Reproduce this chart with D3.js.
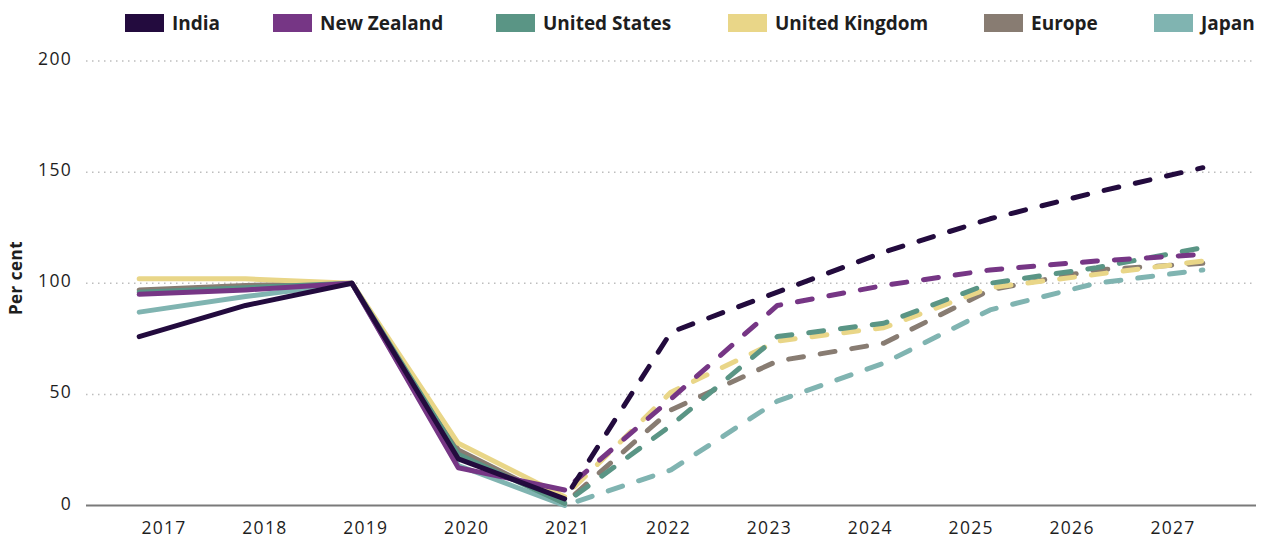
<!DOCTYPE html>
<html>
<head>
<meta charset="utf-8">
<script src="https://cdn.jsdelivr.net/npm/d3@7"></script>
<style>
  body { margin: 0; background: #fff; }
  svg text { font-family: "Open Sans", "Noto Sans", sans-serif; fill: #1e1e1e; }
</style>
</head>
<body>
<div id="chart"></div>
<script>
// data (per cent, 2019 = 100), 2021 onwards is a forecast
var years = ["2017", "2018", "2019", "2020", "2021", "2022", "2023", "2024", "2025", "2026", "2027"];
var yTicks = [0, 50, 100, 150, 200];

var india         = [76, 90, 100, 21, 3, 78, 96, 114, 129, 141, 152];
var newZealand    = [95, 97, 100, 17, 7, 48, 90, 99, 106, 110, 113];
var unitedStates  = [96, 98, 100, 23, 1, 36, 76, 82, 100, 107, 116];
var unitedKingdom = [102, 102, 100, 28, 4, 51, 74, 80, 98, 104, 110];
var europe        = [97, 99, 100, 25, 1, 43, 65, 73, 97, 106, 109];
var japan         = [87, 94, 100, 18, 0, 16, 47, 64, 88, 100, 106];

var seriesNames = ["India", "New Zealand", "United States", "United Kingdom", "Europe", "Japan"];
var seriesValues = [india, newZealand, unitedStates, unitedKingdom, europe, japan];
var seriesColors = ["#230b3e", "#763685", "#5a9585", "#e9d688", "#887c72", "#80b4b1"];
var forecastFrom = "2021";

var width = 1261, height = 540;
var margin = { left: 86, right: 1256, top: 61, bottom: 505.5 };

var svg = d3.select("#chart").append("svg")
    .attr("width", width)
    .attr("height", height);

var x = d3.scalePoint().domain(years).range([margin.left, margin.right]).padding(0.5);
// tick labels sit on their own, slightly narrower spacing in the original
var xLabel = d3.scalePoint().domain(years).range([164, 1173]);
var y = d3.scaleLinear().domain([0, 200]).range([margin.bottom, margin.top]);

// grid
svg.append("g")
    .selectAll("line")
    .data(yTicks.filter(function (d) { return d > 0; }))
    .enter()
    .append("line")
    .attr("x1", margin.left)
    .attr("x2", margin.right)
    .attr("y1", function (d) { return y(d); })
    .attr("y2", function (d) { return y(d); })
    .style("stroke", "#bdbdbd")
    .style("stroke-width", 1.5)
    .style("stroke-dasharray", "1.5 4.5");

svg.append("line")
    .attr("x1", margin.left)
    .attr("x2", margin.right)
    .attr("y1", y(0))
    .attr("y2", y(0))
    .style("stroke", "#7a7a7a")
    .style("stroke-width", 2);

// y tick labels
svg.append("g")
    .selectAll("text")
    .data(yTicks)
    .enter()
    .append("text")
    .attr("x", 72)
    .attr("y", function (d) { return y(d) - 3; })
    .attr("text-anchor", "end")
    .attr("dominant-baseline", "central")
    .style("font-size", "17.5px")
    .style("letter-spacing", "1.3px")
    .text(function (d) { return d; });

// x tick labels
svg.append("g")
    .selectAll("text")
    .data(years)
    .enter()
    .append("text")
    .attr("x", function (d) { return xLabel(d); })
    .attr("y", 534)
    .attr("text-anchor", "middle")
    .style("font-size", "17.5px")
    .style("letter-spacing", "1.3px")
    .text(function (d) { return d; });

svg.append("text")
    .attr("transform", "translate(22,278) rotate(-90)")
    .attr("text-anchor", "middle")
    .style("font-size", "17px")
    .style("font-weight", "bold")
    .style("letter-spacing", "0.5px")
    .text("Per cent");

// lines
var line = d3.line()
    .x(function (d) { return x(d.year); })
    .y(function (d) { return y(d.value); });

var series = seriesNames.map(function (name, i) {
    return {
        name: name,
        color: seriesColors[i],
        points: years.map(function (yr, j) { return { year: yr, value: seriesValues[i][j] }; })
    };
});

var cut = years.indexOf(forecastFrom);
var g = svg.append("g");

// draw India last so it sits on top
series.slice().reverse().forEach(function (s) {
    g.append("path")
        .datum(s.points.slice(0, cut + 1))
        .attr("d", line)
        .style("fill", "none")
        .style("stroke", s.color)
        .style("stroke-width", 5)
        .style("stroke-linejoin", "round")
        .style("stroke-linecap", "round");
});
series.slice().reverse().forEach(function (s) {
    g.append("path")
        .datum(s.points.slice(cut))
        .attr("d", line)
        .style("fill", "none")
        .style("stroke", s.color)
        .style("stroke-width", 5)
        .style("stroke-linejoin", "round")
        .style("stroke-linecap", "round")
        .style("stroke-dasharray", "15 17")
        .style("stroke-dashoffset", -14);
});

// legend
var legendX = [125, 273, 496, 728, 984, 1154];
var legend = svg.append("g")
    .selectAll("g")
    .data(series)
    .enter()
    .append("g")
    .attr("transform", function (d, i) { return "translate(" + legendX[i] + ",14)"; });

legend.append("rect")
    .attr("width", 39)
    .attr("height", 18)
    .style("fill", function (d) { return d.color; });

legend.append("text")
    .attr("x", 47)
    .attr("y", 9)
    .attr("dominant-baseline", "central")
    .style("font-size", "19px")
    .style("font-weight", "bold")
    .text(function (d) { return d.name; });
</script>
</body>
</html>
